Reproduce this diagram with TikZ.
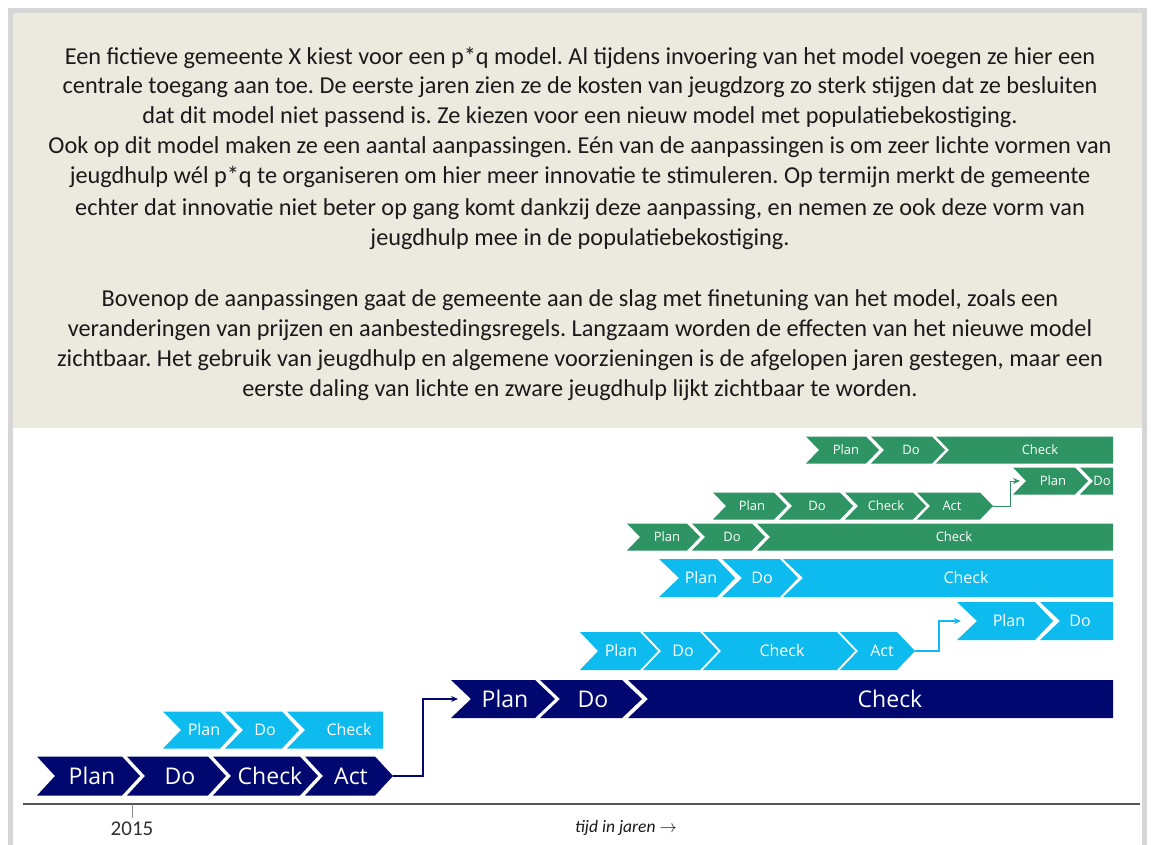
\documentclass[tikz,border=0pt]{standalone}
\usepackage{fontspec}
\setmainfont{Carlito}
\newfontfamily\chevfont{Open Sans}
\usetikzlibrary{arrows.meta}
\definecolor{navy}{HTML}{00086F}
\definecolor{sky}{HTML}{0DBBEE}
\definecolor{leaf}{HTML}{2E9463}
\definecolor{paper}{HTML}{ECE9DF}
\definecolor{frame}{HTML}{D6D6D6}
\definecolor{ink}{HTML}{1A1A1A}
\definecolor{axis}{HTML}{555555}

% one row of chevrons: name, colour, y, half height, notch, font size, list
\newcommand{\chevrow}[7]{%
  \foreach \a/\b/\p/\tx/\lab [count=\k] in {#7}{
    \fill[#2] (\a,#3-#4) -- (\b,#3-#4) -- (\b+\p,#3) -- (\b,#3+#4) -- (\a,#3+#4) -- (\a+#5,#3) -- cycle;
    \coordinate (#1\k-in) at (\a+#5,#3);
    \coordinate (#1\k-tip) at (\b+\p,#3);
    \node[lab,text height={0.714*#6pt},font=\chevfont\fontsize{#6}{#6}\selectfont] (#1\k) at (\tx,#3) {\lab};
  }%
}

\begin{document}
\frenchspacing
\begin{tikzpicture}[x=1pt,y=-1pt,
  lab/.style={text=white,inner sep=0pt,text depth=0pt},
  story/.style={text=ink,inner sep=0pt,anchor=base,font=\fontsize{24.3}{28}\selectfont},
  flow/.style={line width=1.4pt,-{Stealth[length=7pt,width=6pt]}}]
\useasboundingbox (0,0) rectangle (1151,845);
\fill[white] (0,0) rectangle (1151,845);
\draw[frame,line width=5pt] (10.5,880) -- (10.5,10.5) -- (1144.5,10.5) -- (1144.5,880);
\fill[paper] (13,13) rectangle (1142,428);

\foreach \y/\t [count=\i] in {%
  65/{Een fictieve gemeente X kiest voor een p*q model. Al tijdens invoering van het model voegen ze hier een},
  94/{centrale toegang aan toe. De eerste jaren zien ze de kosten van jeugdzorg zo sterk stijgen dat ze besluiten},
  124/{dat dit model niet passend is. Ze kiezen voor een nieuw model met populatiebekostiging.},
  154/{Ook op dit model maken ze een aantal aanpassingen. Eén van de aanpassingen is om zeer lichte vormen van},
  184/{jeugdhulp wél p*q te organiseren om hier meer innovatie te stimuleren. Op termijn merkt de gemeente},
  215/{echter dat innovatie niet beter op gang komt dankzij deze aanpassing, en nemen ze ook deze vorm van},
  245/{jeugdhulp mee in de populatiebekostiging.},
  306/{Bovenop de aanpassingen gaat de gemeente aan de slag met finetuning van het model, zoals een},
  336/{veranderingen van prijzen en aanbestedingsregels. Langzaam worden de effecten van het nieuwe model},
  366/{zichtbaar. Het gebruik van jeugdhulp en algemene voorzieningen is de afgelopen jaren gestegen, maar een},
  396/{eerste daling van lichte en zware jeugdhulp lijkt zichtbaar te worden.}}{
  \node[story] (line\i) at (580,\y) {\t};
}

\chevrow{A}{navy}{776}{19.5}{18}{23}{37/122/18/92/Plan, 127/208/18/180/Do, 213/300/18/270/Check, 305/375/18/351/Act}
\chevrow{B}{sky}{730}{18.5}{18}{16}{163/220/17/204/Plan, 225/282/17/265/Do, 287/383/0/349/Check}
\chevrow{C}{navy}{699}{19}{20}{23}{451/535/20/505/Plan, 540/622/20/593/Do, 628/1113/0/890/Check}
\chevrow{D}{sky}{651}{19}{18}{16}{580/640/18/621/Plan, 643/700/18/683/Do, 703/837/18/782/Check, 840/897/18/882/Act}
\chevrow{E}{sky}{621}{19}{20}{16}{957/1035/18/1009/Plan, 1040/1113/0/1080/Do}
\chevrow{F}{sky}{578}{19}{20}{16}{659/717/18/701/Plan, 722/780/18/762/Do, 783/1113/0/966/Check}
\chevrow{G}{leaf}{537}{13.5}{13}{13}{627/687/13/667/Plan, 692/752/13/732/Do, 757/1113/0/954/Check}
\chevrow{H}{leaf}{506}{13.5}{13}{13}{713/774/13/752/Plan, 779/840/13/817/Do, 845/913/13/886/Check, 917/980/13/952/Act}
\chevrow{I}{leaf}{481}{13.5}{13}{13}{1013/1075/13/1053/Plan, 1080/1113/0/1102/Do}
\chevrow{J}{leaf}{450}{13.5}{13}{13}{806/866/13/846/Plan, 871/932/13/911/Do, 936/1113/0/1040/Check}

\draw[flow,navy] (A4-tip) -- ++(30,0) |- ([xshift=-13pt]C1-in);
\draw[flow,sky,line width=1.2pt] (D4-tip) -- ++(24,0) |- ([xshift=-16pt]E1-in);
\draw[flow,leaf,line width=1pt] (H4-tip) -- ++(17,0) |- ([xshift=-6pt]I1-in);

\coordinate (start) at (23,804);
\coordinate (end) at (1140,804);
\coordinate (y2015) at (132,804);
\draw[axis,line width=1.2pt] (start) -- (end);
\draw[axis!70,line width=0.8pt] (y2015) -- ++(0,14);
\node[text=ink!90,font=\fontsize{21}{21}\selectfont] (year) at (132,829) {2015};
\node[text=ink,font=\itshape\fontsize{17.5}{17.5}\selectfont] (time) at (626,828) {tijd in jaren $\rightarrow$};
\end{tikzpicture}
\end{document}
